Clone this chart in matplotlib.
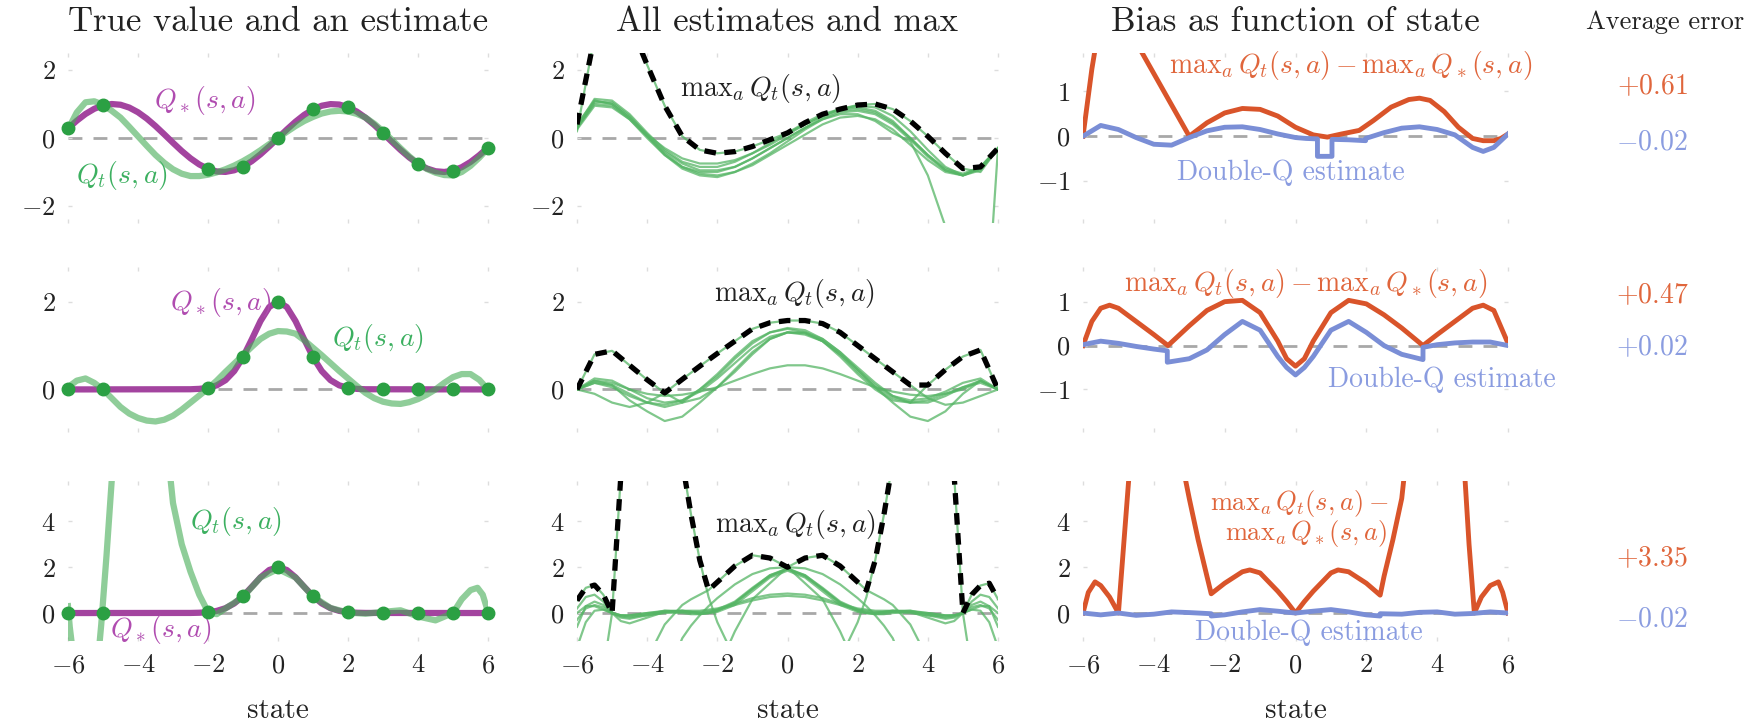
import numpy as np
import matplotlib.pyplot as plt

plt.rcParams['font.family'] = 'cmr10'
plt.rcParams['mathtext.fontset'] = 'cm'
plt.rcParams['axes.formatter.use_mathtext'] = True

# ---------------- data ----------------
titles = ['True value and an estimate', 'All estimates and max', 'Bias as function of state']

# true values Q*(s,a)
states_q = [-6, -5.75, -5.5, -5.25, -5, -4.75, -4.5, -4.25, -4, -3.75, -3.5, -3.25, -3, -2.75, -2.5, -2.25,
            -2, -1.75, -1.5, -1.25, -1, -0.75, -0.5, -0.25, 0, 0.25, 0.5, 0.75, 1, 1.25, 1.5, 1.75,
            2, 2.25, 2.5, 2.75, 3, 3.25, 3.5, 3.75, 4, 4.25, 4.5, 4.75, 5, 5.25, 5.5, 5.75, 6]
q_true_sin = [0.279, 0.508, 0.706, 0.859, 0.959, 0.999, 0.978, 0.895, 0.757, 0.572, 0.351, 0.108, -0.141,
              -0.382, -0.598, -0.778, -0.909, -0.984, -0.997, -0.949, -0.841, -0.682, -0.479, -0.247, 0.0,
              0.247, 0.479, 0.682, 0.841, 0.949, 0.997, 0.984, 0.909, 0.778, 0.598, 0.382, 0.141, -0.108,
              -0.351, -0.572, -0.757, -0.895, -0.978, -0.999, -0.959, -0.859, -0.706, -0.508, -0.279]
states_gauss = [-6, -2.5, -2.25, -2, -1.75, -1.5, -1.25, -1, -0.75, -0.5, -0.25, 0, 0.25, 0.5, 0.75, 1,
                1.25, 1.5, 1.75, 2, 2.25, 2.5, 6]
q_true_gauss = [0.0, 0.004, 0.013, 0.037, 0.093, 0.211, 0.419, 0.736, 1.140, 1.558, 1.879, 2.0, 1.879,
                1.558, 1.140, 0.736, 0.419, 0.211, 0.093, 0.037, 0.013, 0.004, 0.0]

# sampled points
sample_states = [-6, -5, -2, -1, 0, 1, 2, 3, 4, 5, 6]
samples_sin = [0.28, 0.96, -0.91, -0.84, 0.0, 0.84, 0.91, 0.14, -0.76, -0.96, -0.28]
samples_gauss = [0.0, 0.0, 0.04, 0.74, 2.0, 0.74, 0.04, 0.0, 0.0, 0.0, 0.0]

# one estimate Q_t(s,a) per row (on the states_q grid for rows 1-2)
est_sin = [0.25, 0.75, 1.05, 1.08, 0.98, 0.8, 0.6, 0.33, 0.05, -0.23, -0.5, -0.73, -0.92, -1.05, -1.12,
           -1.12, -1.08, -1.01, -0.92, -0.81, -0.68, -0.53, -0.36, -0.18, 0.0, 0.18, 0.35, 0.5, 0.62,
           0.72, 0.78, 0.8, 0.78, 0.71, 0.6, 0.42, 0.2, -0.05, -0.3, -0.54, -0.75, -0.91, -1.02, -1.09,
           -1.1, -1.0, -0.82, -0.58, -0.3]
est_gauss = [0.05, 0.2, 0.25, 0.15, 0.0, -0.2, -0.4, -0.55, -0.65, -0.71, -0.73, -0.69, -0.6, -0.46, -0.3,
             -0.14, 0.02, 0.2, 0.4, 0.59, 0.78, 0.97, 1.15, 1.27, 1.33, 1.32, 1.27, 1.12, 0.95, 0.78, 0.6,
             0.42, 0.25, 0.08, -0.08, -0.2, -0.28, -0.32, -0.33, -0.29, -0.22, -0.12, 0.0, 0.15, 0.28,
             0.35, 0.35, 0.22, 0.0]
states_est9 = [-6, -5.95, -5.8, -5.5, -5.2, -5.05, -4.9, -4.75, -4.5, -4, -3.5, -3.25, -3, -2.75, -2.5,
               -2.25, -2, -1.75, -1.5, -1, -0.5, 0, 0.5, 1, 1.5, 2, 2.5, 3, 3.5, 4, 4.5, 5, 5.25, 5.5,
               5.7, 5.85, 6]
est_gauss9 = [0.3, -0.6, -2.5, -5, -3, -0.5, 2.5, 5.8, 12, 20, 14, 8.5, 4.8, 3.0, 1.8, 0.8, 0.05, -0.05,
              0.2, 0.7, 1.55, 1.92, 1.55, 0.72, 0.22, 0.02, -0.03, 0.05, 0.12, -0.15, -0.32, 0.0, 0.6,
              1.0, 1.1, 0.8, 0.05]

# all estimates (one per action)
states_half = [-6, -5.5, -5, -4.5, -4, -3.5, -3, -2.5, -2, -1.5, -1, -0.5, 0, 0.5, 1, 1.5, 2, 2.5, 3,
               3.5, 4, 4.5, 5, 5.5, 6]
all_est_sin = [
    [0.2, 3.0, 4.2, 3.4, 2.15, 0.95, 0.05, -0.35, -0.45, -0.4, -0.25, -0.05, 0.15, 0.4, 0.65, 0.85, 0.97,
     1.0, 0.85, 0.5, 0.05, -0.45, -0.9, -1.0, -0.3],
    [0.3, 1.0, 0.95, 0.55, 0.0, -0.5, -0.85, -1.0, -1.0, -0.85, -0.6, -0.3, 0.0, 0.3, 0.55, 0.7, 0.7, 0.5,
     0.15, -0.1, -1.1, -2.6, -6.0, -8.0, -0.3],
    [0.35, 1.15, 1.1, 0.7, 0.15, -0.35, -0.7, -0.85, -0.85, -0.7, -0.45, -0.15, 0.15, 0.45, 0.7, 0.85,
     0.9, 0.8, 0.5, 0.0, -0.5, -0.95, -1.1, -0.9, -0.3],
    [0.3, 1.05, 1.05, 0.65, 0.1, -0.45, -0.85, -1.05, -1.1, -1.0, -0.8, -0.5, -0.2, 0.1, 0.4, 0.6, 0.65,
     0.55, 0.25, -0.2, -0.65, -1.0, -1.1, -0.85, -0.3],
    [0.25, 0.95, 0.9, 0.55, 0.05, -0.4, -0.75, -0.95, -0.95, -0.85, -0.6, -0.3, 0.0, 0.3, 0.6, 0.8, 0.85,
     0.75, 0.45, 0.0, -0.5, -0.9, -1.05, -0.85, -0.3],
    [0.3, 1.1, 1.0, 0.6, 0.05, -0.5, -0.9, -1.1, -1.15, -1.0, -0.75, -0.45, -0.1, 0.25, 0.55, 0.75, 0.8,
     0.7, 0.4, -0.05, -0.55, -0.95, -1.1, -0.9, -0.3],
    [0.4, 1.1, 1.0, 0.6, 0.1, -0.3, -0.6, -0.75, -0.75, -0.65, -0.45, -0.2, 0.1, 0.4, 0.65, 0.85, 0.95,
     0.9, 0.65, 0.2, -0.35, -0.85, -1.1, -0.95, -0.3],
]
all_est_gauss = [
    [0.0, 0.8, 0.88, 0.55, 0.22, -0.08, -0.3, -0.2, 0.05, 0.4, 0.8, 1.15, 1.3, 1.28, 1.1, 0.8, 0.4, 0.05,
     -0.2, -0.3, -0.25, -0.1, 0.05, 0.15, 0.0],
    [0.0, -0.1, -0.3, -0.4, -0.3, -0.08, 0.23, 0.53, 0.82, 1.1, 1.38, 1.52, 1.57, 1.57, 1.5, 1.3, 1.0, 0.7,
     0.4, 0.1, -0.2, -0.35, -0.3, -0.15, 0.0],
    [0.0, 0.15, 0.1, -0.1, -0.3, -0.4, -0.3, 0.0, 0.35, 0.75, 1.1, 1.3, 1.38, 1.3, 1.1, 0.75, 0.35, 0.0,
     -0.25, -0.3, 0.1, 0.45, 0.75, 0.9, 0.0],
    [0.0, 0.2, 0.1, -0.25, -0.5, -0.72, -0.62, -0.3, 0.05, 0.45, 0.85, 1.15, 1.3, 1.3, 1.15, 0.85, 0.45,
     0.05, -0.3, -0.62, -0.72, -0.5, -0.1, 0.2, 0.0],
    [0.0, 0.2, 0.15, 0.0, -0.1, -0.15, -0.12, -0.05, 0.05, 0.2, 0.35, 0.48, 0.55, 0.55, 0.48, 0.35, 0.2,
     0.05, -0.05, -0.12, -0.15, -0.1, 0.0, 0.2, 0.0],
    [0.0, 0.25, 0.2, 0.0, -0.2, -0.3, -0.25, -0.05, 0.25, 0.6, 0.95, 1.2, 1.3, 1.25, 1.1, 0.8, 0.45, 0.1,
     -0.15, -0.25, -0.2, -0.05, 0.15, 0.25, 0.0],
    [0.0, 0.15, 0.05, -0.15, -0.3, -0.35, -0.25, 0.0, 0.3, 0.7, 1.05, 1.3, 1.4, 1.35, 1.15, 0.85, 0.5, 0.15,
     -0.15, -0.3, -0.3, -0.15, 0.05, 0.2, 0.0],
]
states_9 = [-6, -5.75, -5.5, -5.25, -5, -4.75, -4.5, -4, -3.5, -3, -2.75, -2.5, -2.25, -2, -1.5, -1, -0.5,
            0, 0.5, 1, 1.5, 2, 2.25, 2.5, 2.75, 3, 3.5, 4, 4.5, 4.75, 5, 5.25, 5.5, 5.75, 6]
all_est_gauss9 = [
    [-3, -4, -4, -2.5, 0.0, 6.0, 11, 16, 14, 6.6, 4.3, 2.3, 0.7, -0.4, -2.0, -3, -3, -3, -3, -3, -3, -3, -3,
     -3, -3, -3, -3, -3, -3, -3, -3, -3, -3, -3, -3],
    [-3, -3, -3, -3, -3, -3, -3, -2.0, -0.5, 0.35, 0.6, 0.8, 1.0, 1.35, 2.05, 2.52, 2.4, 2.0, 1.3, 0.6,
     -0.8, -2.5, -3, -3, -3, -3, -3, -3, -3, -3, -3, -3, -3, -3, -3],
    [-3, -3, -3, -3, -3, -3, -3, -3, -3, -3, -3, -3, -3, -2.5, -0.8, 0.6, 1.3, 2.0, 2.4, 2.52, 2.05, 1.35,
     1.0, 0.8, 0.6, 0.35, -0.5, -2.0, -3, -3, -3, -3, -3, -3, -3],
    [-3, -3, -3, -3, -3, -3, -3, -3, -3, -3, -3, -3, -3, -3, -3, -3, -3, -3, -3, -3, -2.0, -0.4, 0.7, 2.3,
     4.3, 6.6, 14, 16, 11, 6.0, 0.0, -2.5, -4, -4, -3],
    [0.55, 1.1, 1.22, 0.8, 0.0, -0.35, -0.45, -0.2, 0.05, 0.1, 0.05, 0.0, 0.05, 0.15, 0.5, 1.1, 1.65, 1.9,
     1.65, 1.05, 0.45, 0.1, 0.0, -0.05, 0.0, 0.05, 0.1, 0.0, -0.1, -0.1, 0.0, 0.15, 0.3, 0.3, 0.0],
    [0.0, 0.3, 0.3, 0.15, 0.0, -0.1, -0.1, 0.0, 0.1, 0.05, 0.0, -0.05, 0.0, 0.1, 0.45, 1.05, 1.65, 1.95,
     1.65, 1.1, 0.5, 0.15, 0.05, 0.0, 0.05, 0.1, 0.05, -0.2, -0.45, -0.35, 0.0, 0.8, 1.2, 1.3, 0.6],
    [-0.3, 0.2, 0.35, 0.25, 0.0, -0.1, -0.15, -0.1, 0.0, 0.05, 0.05, 0.05, 0.1, 0.15, 0.35, 0.55, 0.7,
     0.75, 0.7, 0.55, 0.35, 0.15, 0.1, 0.05, 0.05, 0.05, 0.0, -0.1, -0.15, -0.1, 0.0, 0.25, 0.35, 0.2, -0.3],
    [-1.5, -0.4, 0.1, 0.15, 0.0, -0.1, -0.1, 0.0, 0.05, 0.0, -0.05, -0.05, 0.0, 0.1, 0.45, 1.05, 1.6, 1.95,
     1.6, 1.05, 0.45, 0.1, 0.0, -0.05, -0.05, 0.0, 0.05, 0.0, -0.1, -0.1, 0.0, 0.15, 0.1, -0.4, -1.5],
    [-0.6, 0.3, 0.5, 0.35, 0.0, -0.15, -0.2, -0.05, 0.1, 0.1, 0.05, 0.0, 0.0, 0.05, 0.35, 0.95, 1.55, 1.85,
     1.55, 0.95, 0.35, 0.05, 0.0, 0.0, 0.05, 0.1, 0.1, -0.05, -0.2, -0.15, 0.0, 0.35, 0.5, 0.3, -0.6],
    [0.2, 0.7, 0.8, 0.5, 0.0, -0.2, -0.25, -0.1, 0.05, 0.1, 0.1, 0.1, 0.15, 0.2, 0.4, 0.65, 0.8, 0.85, 0.8,
     0.65, 0.4, 0.2, 0.15, 0.1, 0.1, 0.1, 0.05, -0.1, -0.25, -0.2, 0.0, 0.5, 0.8, 0.7, 0.2],
    [-3, -3, -3, -3, -3, -3, -3, -3, -3, -1.1, -0.55, -0.1, 0.3, 0.65, 1.25, 1.7, 1.95, 2.0, 1.95, 1.7,
     1.25, 0.65, 0.3, -0.1, -0.55, -1.1, -3, -3, -3, -3, -3, -3, -3, -3, -3],
]

# bias: max_a Q_t - max_a Q*  (red) and double-Q estimate (blue)
bias_max_x1 = [-6, -5.75, -5.5, -4.5, -4, -3.5, -3, -2.5, -2, -1.5, -1, -0.5, 0, 0.5, 0.9, 1.3, 1.8, 2.2,
               2.7, 3.2, 3.5, 3.8, 4.2, 4.6, 5.0, 5.3, 5.6, 5.8, 6]
bias_max_y1 = [0.0, 1.5, 2.7, 2.1, 1.4, 0.7, 0.0, 0.3, 0.52, 0.62, 0.6, 0.45, 0.2, 0.03, -0.02, 0.05, 0.13,
               0.35, 0.65, 0.82, 0.85, 0.8, 0.55, 0.2, -0.05, -0.1, -0.1, -0.05, 0.05]
bias_dq_x1 = [-6, -5.5, -5, -4.5, -4, -3.5, -3, -2.5, -2, -1.5, -1, -0.5, 0, 0.3, 0.62, 0.62, 1.03, 1.03,
              1.5, 1.98, 1.98, 2.5, 3, 3.5, 4, 4.5, 5, 5.3, 5.6, 6]
bias_dq_y1 = [0.0, 0.24, 0.15, -0.03, -0.18, -0.2, -0.03, 0.12, 0.2, 0.21, 0.15, 0.05, -0.03, -0.05,
              -0.06, -0.45, -0.45, -0.07, -0.08, -0.1, -0.05, 0.08, 0.18, 0.21, 0.15, 0.03, -0.25, -0.34,
              -0.25, 0.05]
bias_max_x2 = [-6, -5.75, -5.5, -5.25, -5, -4.5, -4, -3.6, -3, -2.5, -2, -1.5, -1, -0.5, -0.25, 0, 0.25,
               0.5, 1, 1.5, 2, 2.5, 3, 3.6, 4, 4.5, 5, 5.3, 5.6, 6]
bias_max_y2 = [0.0, 0.55, 0.85, 0.92, 0.85, 0.55, 0.25, 0.0, 0.45, 0.8, 1.0, 1.03, 0.75, 0.1, -0.3, -0.47,
               -0.3, 0.1, 0.75, 1.03, 0.95, 0.7, 0.4, 0.0, 0.25, 0.55, 0.85, 0.92, 0.8, 0.05]
bias_dq_x2 = [-6, -5.5, -5, -4.5, -4, -3.62, -3.62, -3, -2.5, -2, -1.5, -1, -0.5, -0.25, 0, 0.25, 0.5, 1,
              1.5, 2, 2.5, 3, 3.6, 3.6, 4, 4.5, 5, 5.5, 6]
bias_dq_y2 = [0.02, 0.1, 0.05, -0.02, -0.08, -0.12, -0.38, -0.3, -0.1, 0.25, 0.55, 0.35, -0.25, -0.5,
              -0.67, -0.5, -0.25, 0.35, 0.55, 0.3, 0.0, -0.2, -0.32, -0.04, 0.02, 0.06, 0.08, 0.08, 0.0]
bias_max_x3 = [-6, -5.85, -5.66, -5.5, -5.25, -5.0, -4.85, -4.7, -4.5, -4, -3.5, -3.13, -3, -2.75, -2.5,
               -2.38, -2, -1.5, -1.29, -1, -0.5, -0.25, 0, 0.25, 0.5, 1, 1.2, 1.5, 2, 2.39, 2.5, 2.75, 3,
               3.07, 3.5, 4, 4.5, 4.78, 4.9, 5.05, 5.25, 5.5, 5.73, 5.85, 6]
bias_max_y3 = [0.0, 0.9, 1.36, 1.2, 0.7, 0.0, 3.0, 6.0, 10, 16, 12, 6.0, 5.0, 3.2, 1.6, 0.84, 1.3, 1.8,
               1.88, 1.75, 0.95, 0.5, 0.0, 0.5, 0.95, 1.75, 1.88, 1.8, 1.3, 0.78, 1.6, 3.2, 5.0, 6.0, 12,
               16, 10, 6.0, 3.0, 0.0, 0.7, 1.2, 1.36, 0.9, 0.0]
bias_dq_x3 = [-6, -5.5, -5, -4.5, -4, -3.5, -3, -2.38, -2.38, -2, -1.5, -1, -0.5, 0, 0.5, 1, 1.5, 2,
              2.39, 2.39, 3, 3.5, 4, 4.5, 5, 5.5, 6]
bias_dq_y3 = [0.0, -0.08, 0.0, -0.1, -0.05, 0.05, 0.02, -0.03, -0.13, -0.08, 0.05, 0.15, 0.08, 0.0,
              0.08, 0.15, 0.05, -0.08, -0.13, -0.03, -0.05, 0.03, 0.05, -0.05, -0.02, 0.05, 0.0]

avg_err_max = ['+0.61', '+0.47', '+3.35']
avg_err_dq = ['-0.02', '+0.02', '-0.02']

# ---------------- style ----------------
PURPLE = '#a3449f'
GREEN = '#45ad55'
GREEN_DOT = '#2ba043'
GREEN_THIN = '#55b565'
RED = '#d9542a'
BLUE = '#7a8ed6'
RED_TXT = '#e0663c'
BLUE_TXT = '#8a9ce0'
DARK = '#222222'

W, H = 1754, 727
fig = plt.figure(figsize=(W / 100, H / 100), dpi=100)

col_px = [(68, 488), (577, 998), (1083, 1508)]
row_px = [(53, 223), (267, 432), (481, 641)]
ylims = [[(-2.5, 2.5), (-2.5, 2.5), (-1.94, 1.86)],
         [(-0.97, 2.79), (-0.97, 2.79), (-1.97, 1.79)],
         [(-1.22, 5.76), (-1.22, 5.76), (-1.22, 5.76)]]
yticks = [[[-2, 0, 2], [-2, 0, 2], [-1, 0, 1]],
          [[0, 2], [0, 2], [-1, 0, 1]],
          [[0, 2, 4], [0, 2, 4], [0, 2, 4]]]


def make_ax(r, c):
    x0, x1 = col_px[c]
    y0, y1 = row_px[r]
    ax = fig.add_axes([x0 / W, 1 - y1 / H, (x1 - x0) / W, (y1 - y0) / H])
    ax.set_xlim(-6, 6)
    ax.set_ylim(*ylims[r][c])
    for s in ax.spines.values():
        s.set_visible(False)
    ax.set_xticks([-6, -4, -2, 0, 2, 4, 6])
    ax.set_yticks(yticks[r][c])
    ax.tick_params(direction='in', length=3, width=1, color='#dddddd', top=True, right=True,
                   labelsize=19, labelcolor=DARK, pad=9)
    if r < 2:
        ax.tick_params(labelbottom=False)
    ax.axhline(0, color='#a8a8a8', lw=2, ls=(0, (5, 4)), zorder=1)
    return ax


axes = [[make_ax(r, c) for c in range(3)] for r in range(3)]

# column 1: true value and one estimate
col1 = [(states_q, q_true_sin, states_q, est_sin, samples_sin),
        (states_gauss, q_true_gauss, states_q, est_gauss, samples_gauss),
        (states_gauss, q_true_gauss, states_est9, est_gauss9, samples_gauss)]
for r, (xs, qs, xe, qe, dots) in enumerate(col1):
    ax = axes[r][0]
    ax.plot(xs, qs, color=PURPLE, lw=4.5, zorder=2)
    ax.plot(xe, qe, color=GREEN, lw=4.5, alpha=0.6, zorder=3)
    ax.plot(sample_states, dots, 'o', color=GREEN_DOT, ms=9, zorder=4, clip_on=False)

qstar = r'$Q_*(s,a)$'
qt = r'$Q_t(s,a)$'
lab_kw = dict(fontsize=20, ha='center', va='center', clip_on=False)
axes[0][0].text(-2.1, 1.1, qstar, color='#b04cb0', **lab_kw)
axes[0][0].text(-4.45, -1.1, qt, color='#3cb060', **lab_kw)
axes[1][0].text(-1.65, 1.98, qstar, color='#b04cb0', **lab_kw)
axes[1][0].text(2.86, 1.16, qt, color='#3cb060', **lab_kw)
axes[2][0].text(-1.2, 4.0, qt, color='#3cb060', **lab_kw)
axes[2][0].text(-3.34, -0.72, qstar, color='#b04cb0', **lab_kw)

# column 2: all estimates and their max
max_qt = r'$\mathrm{max}_a\, Q_t(s,a)$'
col2 = [(states_half, all_est_sin), (states_half, all_est_gauss), (states_9, all_est_gauss9)]
max_pos = [(-0.76, 1.46), (0.2, 2.19), (0.24, 3.85)]
for r, (xs, curves) in enumerate(col2):
    ax = axes[r][1]
    for cv in curves:
        ax.plot(xs, cv, color=GREEN_THIN, lw=1.6, alpha=0.75, zorder=2)
    ax.plot(xs, np.max(np.array(curves), axis=0), color='black', lw=3.8,
            ls=(0, (2.2, 1.6)), zorder=3)
    ax.text(*max_pos[r], max_qt, color=DARK, **lab_kw)

# column 3: bias
col3 = [(bias_max_x1, bias_max_y1, bias_dq_x1, bias_dq_y1),
        (bias_max_x2, bias_max_y2, bias_dq_x2, bias_dq_y2),
        (bias_max_x3, bias_max_y3, bias_dq_x3, bias_dq_y3)]
for r, (xm, ym, xd, yd) in enumerate(col3):
    ax = axes[r][2]
    ax.plot(xm, ym, color=RED, lw=3.5, zorder=3)
    ax.plot(xd, yd, color=BLUE, lw=3.5, zorder=3)

red_lab = r'$\mathrm{max}_a\, Q_t(s,a) - \mathrm{max}_a\, Q_*(s,a)$'
axes[0][2].text(1.57, 1.57, red_lab, color=RED_TXT, **lab_kw)
axes[0][2].text(-0.13, -0.82, 'Double-Q estimate', color=BLUE_TXT, **lab_kw)
axes[1][2].text(0.3, 1.42, red_lab, color=RED_TXT, **lab_kw)
axes[1][2].text(4.13, -0.79, 'Double-Q estimate', color=BLUE_TXT, **lab_kw)
two_kw = dict(lab_kw, fontsize=19)
axes[2][2].text(0.1, 4.8, r'$\mathrm{max}_a\, Q_t(s,a)-$', color=RED_TXT, **two_kw)
axes[2][2].text(0.3, 3.45, r'$\mathrm{max}_a\, Q_*(s,a)$', color=RED_TXT, **two_kw)
axes[2][2].text(0.38, -0.85, 'Double-Q estimate', color=BLUE_TXT, **lab_kw)

# titles and x labels
for c in range(3):
    xc = sum(col_px[c]) / 2 / W
    fig.text(xc, 1 - 22 / H, titles[c], fontsize=25, ha='center', va='center', color=DARK)
    fig.text(xc, 1 - 711 / H, 'state', fontsize=21, ha='center', va='center', color=DARK)

# average error column
fig.text(1665 / W, 1 - 22 / H, 'Average error', fontsize=19, ha='center', va='center', color=DARK)
y_max = [87, 296, 559]
y_dq = [142, 348, 619]
for r in range(3):
    fig.text(1652 / W, 1 - y_max[r] / H, '$' + avg_err_max[r] + '$', fontsize=20,
             ha='center', va='center', color=RED_TXT)
    fig.text(1652 / W, 1 - y_dq[r] / H, '$' + avg_err_dq[r] + '$', fontsize=20,
             ha='center', va='center', color=BLUE_TXT)

fig.savefig('out.png', dpi=100)
